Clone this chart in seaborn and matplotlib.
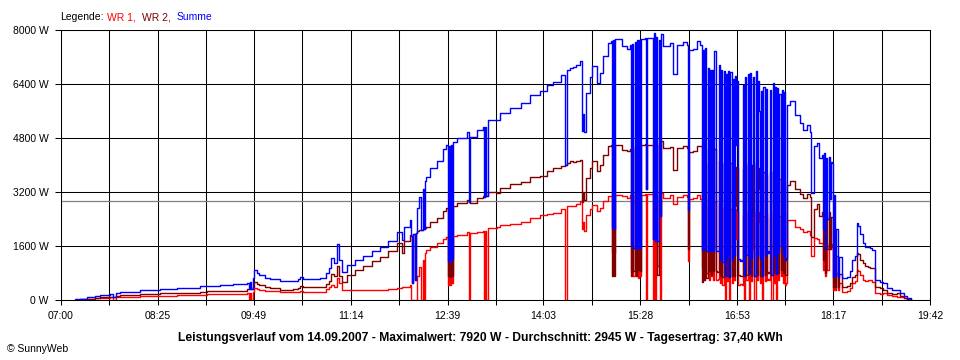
import matplotlib
matplotlib.use("Agg")
import matplotlib.pyplot as plt
import seaborn as sns
import pandas as pd
import numpy as np

# ---------------- data ----------------
times = ["07:12","07:17","07:23","07:30","07:34","07:43","07:46","07:48","07:52","08:09",
         "08:18","08:27","08:42","09:02","09:08","09:19","09:31","09:43","09:45","09:46",
         "09:47","09:48","09:49","09:52","09:54","09:59","10:03","10:12","10:23","10:28",
         "10:30","10:32","10:38","10:47","10:52","10:55","10:57","10:59","11:02","11:04",
         "11:06","11:11","11:18","11:25","11:33","11:40","11:47","11:55","11:59","12:01",
         "12:06","12:07","12:08","12:09","12:10","12:11","12:12","12:14","12:16","12:17",
         "12:18","12:19","12:20","12:24","12:30","12:35","12:38","12:39","12:40","12:41",
         "12:42","12:43","12:44","12:47","12:56","12:58","12:59","13:05","13:10","13:11",
         "13:12","13:13","13:14","13:22","13:25","13:34","13:43","13:51","14:00","14:06",
         "14:11","14:18","14:22","14:24","14:26","14:29","14:32","14:35","14:37","14:38",
         "14:39","14:40","14:44","14:46","14:50","14:53","14:55","15:00","15:02","15:03",
         "15:04","15:05","15:06","15:12","15:16","15:19","15:20","15:21","15:22","15:23",
         "15:24","15:25","15:26","15:27","15:28","15:29","15:32","15:33","15:34","15:36",
         "15:39","15:40","15:41","15:42","15:43","15:44","15:45","15:46","15:48","15:54",
         "15:57","16:00","16:05","16:09","16:10","16:11","16:14","16:18","16:20","16:22",
         "16:23","16:24","16:25","16:26","16:27","16:28","16:29","16:30","16:31","16:32",
         "16:33","16:34","16:35","16:36","16:37","16:38","16:39","16:40","16:41","16:42",
         "16:43","16:44","16:45","16:46","16:47","16:48","16:49","16:50","16:51","16:52",
         "16:53","16:54","16:55","16:56","16:57","16:58","16:59","17:00","17:01","17:02",
         "17:03","17:04","17:05","17:06","17:07","17:08","17:09","17:10","17:11","17:12",
         "17:13","17:14","17:15","17:16","17:17","17:18","17:19","17:20","17:21","17:22",
         "17:23","17:24","17:25","17:26","17:27","17:28","17:29","17:30","17:31","17:32",
         "17:33","17:34","17:35","17:36","17:37","17:39","17:44","17:48","17:51","17:54",
         "17:57","17:58","18:00","18:03","18:05","18:07","18:08","18:09","18:10","18:11",
         "18:12","18:13","18:14","18:15","18:16","18:17","18:18","18:19","18:20","18:21",
         "18:22","18:25","18:29","18:32","18:34","18:36","18:38","18:39","18:41","18:43",
         "18:45","18:48","18:49","18:51","18:54","18:58","19:01","19:04","19:09","19:13",
         "19:16","19:19","19:22","19:25"]

wr1 = [10,20,40,50,60,80,0,85,90,110,
       115,128,140,160,168,180,190,198,0,200,
       0,250,350,320,300,270,260,240,230,250,
       270,240,240,250,330,400,450,400,640,500,
       296,296,300,300,300,300,320,346,380,400,
       444,0,0,0,0,0,700,988,0,1200,
       0,1400,1481,1580,1680,1820,1876,450,1850,444,
       1870,500,1900,1926,2025,0,1980,2025,2050,0,
       2050,0,2124,2150,2222,2260,2320,2420,2519,2540,
       2568,2700,0,2775,2775,2800,2850,2924,2100,2300,
       2035,2528,2700,2825,2627,2716,2924,3072,3080,1430,
       3100,1400,3121,3080,3022,3100,900,3100,700,3100,
       800,3120,652,3100,700,3121,3150,0,3150,3150,
       0,3200,0,3150,1000,3100,0,3180,3022,3100,
       2850,3050,3100,3050,1155,3000,3022,3121,3000,948,
       3000,900,3000,800,2800,602,2700,700,2726,602,
       2900,602,600,610,2850,500,2750,450,2726,0,
       2700,550,2726,0,2700,500,2650,600,2700,1800,
       2600,454,470,460,454,2500,0,2600,600,2650,
       0,2700,550,1500,2600,0,2700,600,2600,2300,
       500,2500,0,2500,550,2550,600,620,600,2430,
       0,2600,500,2550,0,2530,600,2500,700,2726,
       500,2600,450,500,2380,2380,2173,2100,2025,2050,
       1926,1300,1850,1800,1700,1700,900,1750,700,1700,
       889,1650,1500,1650,1580,296,1200,300,800,296,
       500,250,270,350,494,550,889,850,750,593,
       560,593,600,543,198,180,200,148,130,100,
       79,50,25,0]

wr2 = [10,20,40,60,90,100,100,110,140,178,
       185,198,215,250,255,268,280,316,316,320,
       330,400,530,480,430,390,360,310,320,370,
       410,380,390,400,470,560,780,700,1010,700,
       545,740,880,1000,1150,1280,1440,1680,1400,1750,
       1930,1900,500,1950,600,2000,2030,2070,2080,2100,
       2110,2124,2170,2320,2440,2650,2720,700,2700,691,
       2720,720,2780,2864,2963,2900,2860,3012,3086,3061,
       3090,3080,3200,3180,3309,3440,3510,3650,3660,3830,
       3901,3970,4000,4050,4108,4100,4120,4158,2900,3200,
       2950,3615,3900,4108,3812,4000,4306,4553,4580,701,
       4600,700,4602,4450,4405,4470,700,4500,850,4550,
       700,4580,900,4600,850,4602,4610,3300,4600,4600,
       1800,4700,1750,4650,750,4600,2500,4700,4504,4520,
       3850,4500,4553,4500,1500,4400,4405,4550,4565,543,
       4400,600,4467,650,4074,850,4100,750,4100,850,
       4468,850,840,830,4122,700,4050,680,4058,700,
       4000,720,4050,680,4058,700,3900,720,3950,2800,
       3900,750,700,720,700,3880,700,4000,740,4050,
       760,4026,700,2500,4000,700,4075,740,3900,3300,
       720,3700,700,3800,750,3700,800,820,800,3800,
       750,3830,800,3750,780,3750,800,3600,900,3500,
       800,3550,750,744,3400,3516,3300,3150,3013,3135,
       3061,1860,2700,2850,2500,2600,1200,2600,800,2500,
       1500,2600,1500,2450,2470,395,1900,400,1300,395,
       784,400,420,500,691,750,1383,1350,1200,1086,
       1000,980,950,938,395,360,300,198,170,196,
       119,70,24,0]

series_names = ["WR 1", "WR 2", "Summe"]
series_colors = ["#ff0000", "#800000", "#0000ff"]
average_w = 2945

x_tick_labels = ["07:00", "08:25", "09:49", "11:14", "12:39", "14:03",
                 "15:28", "16:53", "18:17", "19:42"]
y_ticks = [0, 1600, 3200, 4800, 6400, 8000]
y_tick_labels = [f"{v} W" for v in y_ticks]

title = ("Leistungsverlauf vom 14.09.2007 - Maximalwert: 7920 W - "
         "Durchschnitt: 2945 W - Tagesertrag: 37,40 kWh")

# ---------------- build frame ----------------
def to_min(s):
    h, m = s.split(":")
    return int(h) * 60 + int(m)

t_min = [to_min(s) for s in times]
df = pd.DataFrame({"t": t_min, "WR 1": wr1, "WR 2": wr2})
df["Summe"] = df["WR 1"] + df["WR 2"]
long = df.melt(id_vars="t", value_vars=series_names, var_name="Serie", value_name="W")

# ---------------- plot ----------------
sns.set_style("white")
plt.rcParams["font.family"] = ["Liberation Sans", "DejaVu Sans"]

fig = plt.figure(figsize=(9.6, 3.6), dpi=100)
ax = fig.add_axes([61 / 960, 60 / 360, 869 / 960, 270 / 360])

sns.lineplot(data=long, x="t", y="W", hue="Serie", hue_order=series_names,
             palette=dict(zip(series_names, series_colors)),
             drawstyle="steps-post", estimator=None, sort=False,
             legend=False, linewidth=1.0, ax=ax, zorder=3)

ax.axhline(average_w, color="#808080", lw=0.9, zorder=2)

xmaj = [to_min(s) for s in x_tick_labels]
xmin = [(a + b) / 2 for a, b in zip(xmaj[:-1], xmaj[1:])]
ax.set_xlim(xmaj[0], xmaj[-1])
ax.set_ylim(y_ticks[0], y_ticks[-1])
ax.set_xticks(xmaj)
ax.set_xticklabels(x_tick_labels)
ax.set_xticks(xmin, minor=True)
ax.set_yticks(y_ticks)
ax.set_yticklabels(y_tick_labels)
ax.set_xlabel("")
ax.set_ylabel("")

ax.grid(True, which="both", color="black", lw=0.75)
ax.set_axisbelow(True)
for sp in ax.spines.values():
    sp.set_color("black")
    sp.set_linewidth(0.75)
    sp.set_visible(True)

ax.tick_params(axis="both", which="both", direction="out", width=0.75,
               color="black", labelsize=7.5, labelcolor="black")
ax.tick_params(axis="x", which="both", bottom=True, length=3.6, pad=4)
ax.tick_params(axis="y", which="both", left=True, length=4.3, pad=4.5)

def px(x, y):
    return x / 960, 1 - y / 360

# legend line
fs = 7.5
fig.text(*px(60, 17), "Legende:", fontsize=fs, color="black", va="center", ha="left")
fig.text(*px(107, 17), "WR 1,", fontsize=fs, color=series_colors[0], va="center", ha="left")
fig.text(*px(142, 17), "WR 2,", fontsize=fs, color=series_colors[1], va="center", ha="left")
fig.text(*px(177, 17), "Summe", fontsize=fs, color=series_colors[2], va="center", ha="left")

fig.text(*px(480, 338), title, fontsize=8.75, fontweight="bold", color="black",
         va="center", ha="center")
fig.text(*px(7, 349), "\u00a9 SunnyWeb", fontsize=7.5, color="black", va="center", ha="left")

fig.savefig("out.png", dpi=100, facecolor="white")
